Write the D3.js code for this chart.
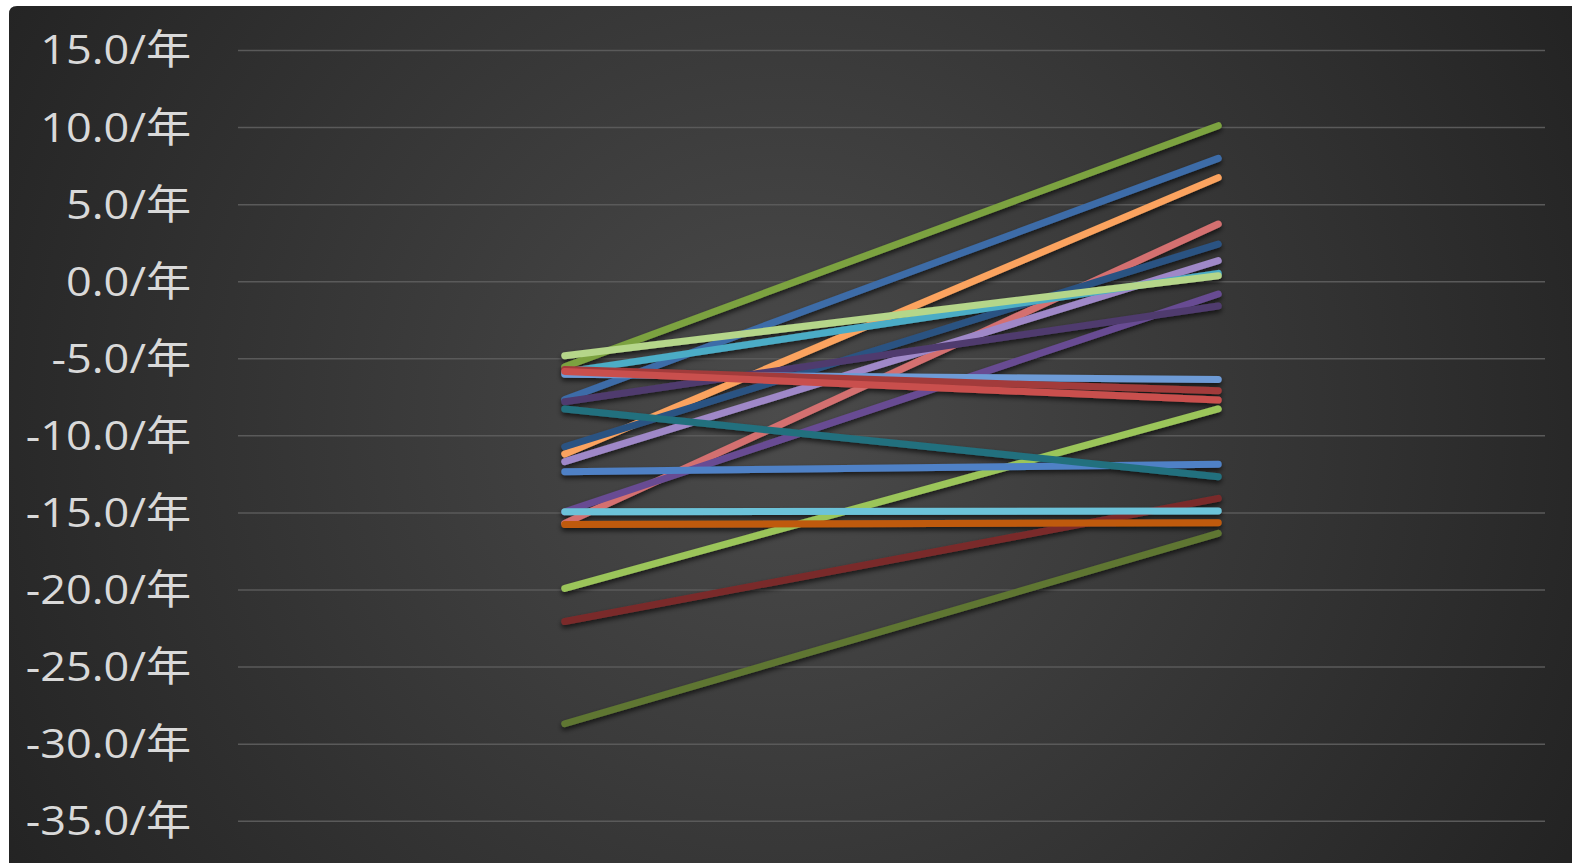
<!DOCTYPE html>
<html>
<head>
<meta charset="utf-8">
<script src="https://cdn.jsdelivr.net/npm/d3@7"></script>
<style>
  html, body { margin: 0; padding: 0; background: #ffffff; }
  svg { display: block; }
</style>
</head>
<body>
<svg id="chart" width="1572" height="863"></svg>
<script>
// ---- data ----
const categories = ["起点", "终点"];
const seriesNames = ["系列1","系列2","系列3","系列4","系列5","系列6","系列7","系列8","系列9","系列10",
                     "系列11","系列12","系列13","系列14","系列15","系列16","系列17","系列18","系列19","系列20"];
const startValues = [-5.55, -7.67, -11.21, -15.71, -10.74, -11.71, -5.9, -4.83, -14.96, -7.82,
                     -6.04, -5.72, -5.85, -19.93, -12.36, -8.29, -22.08, -14.96, -15.78, -28.71];
const endValues   = [10.09, 7.97, 6.72, 3.71, 2.41, 1.33, 0.51, 0.36, -0.83, -1.61,
                     -6.37, -7.10, -7.71, -8.29, -11.88, -12.68, -14.09, -14.91, -15.67, -16.36];
const seriesColors = ["#7BA23F","#3D6CA8","#FBA35E","#D47070","#2C5382","#9F88C8","#4BACC6","#B5D68A","#684C93","#4F3B6E",
                      "#6E9BD6","#A23B3A","#C9504E","#9BC55A","#4F81C6","#22707E","#7A2B2B","#6CC3D9","#BF5A0E","#5E7632"];
const tickValues = [15, 10, 5, 0, -5, -10, -15, -20, -25, -30, -35];
const tickLabels = ["15.0/年","10.0/年","5.0/年","0.0/年","-5.0/年","-10.0/年","-15.0/年","-20.0/年","-25.0/年","-30.0/年","-35.0/年"];

// ---- layout ----
const svg = d3.select("#chart");
const W = 1572, H = 863;
const box = { x: 9, y: 6 };
const plot = { left: 238, right: 1545, top: 50, bottom: 820.7 };

const defs = svg.append("defs");
const grad = defs.append("radialGradient")
  .attr("id", "bg").attr("gradientUnits", "userSpaceOnUse")
  .attr("cx", 780).attr("cy", 420).attr("r", 900);
grad.append("stop").attr("offset", "0%").attr("stop-color", "#4b4b4b");
grad.append("stop").attr("offset", "100%").attr("stop-color", "#232323");

const shadow = defs.append("filter").attr("id", "shadow")
  .attr("x", "-10%").attr("y", "-10%").attr("width", "120%").attr("height", "140%");
shadow.append("feDropShadow").attr("dx", 0).attr("dy", 3).attr("stdDeviation", 2.5)
  .attr("flood-color", "#000").attr("flood-opacity", 0.65);

svg.append("path")
  .attr("d", `M${box.x},${box.y + 8} Q${box.x},${box.y} ${box.x + 8},${box.y} L${W},${box.y} L${W},${H} L${box.x},${H} Z`)
  .attr("fill", "url(#bg)");

// ---- scales ----
const y = d3.scaleLinear().domain([-35, 15]).range([plot.bottom, plot.top]);
const x = d3.scalePoint().domain(categories).range([plot.left, plot.right]).padding(0.5);

// gridlines + labels
const yAxis = d3.axisLeft(y).tickValues(tickValues)
  .tickSize(-(plot.right - plot.left))
  .tickFormat((d, i) => tickLabels[i]);
const gAxis = svg.append("g").attr("transform", `translate(${plot.left},0)`).call(yAxis);
gAxis.select(".domain").remove();
gAxis.selectAll(".tick line").attr("stroke", "#5a5a5a").attr("stroke-width", 1.5);
const labels = gAxis.selectAll(".tick text")
  .attr("dy", "0.34em")
  .attr("fill", "#d9d9d9")
  .style("font-family", "'Open Sans', 'Noto Sans CJK SC', sans-serif")
  .style("font-size", "41px");
// widen labels horizontally to match the reference's wide face
const sx = 1.1;
labels.attr("x", -47 / sx).attr("transform", `scale(${sx},1)`);

// lines
const line = d3.line().x(d => x(d.cat)).y(d => y(d.v));
const series = seriesNames.map((name, i) => ({
  name, color: seriesColors[i],
  pts: [{ cat: categories[0], v: startValues[i] }, { cat: categories[1], v: endValues[i] }]
}));
svg.append("g").attr("filter", "url(#shadow)")
  .selectAll("path").data(series).join("path")
  .attr("d", d => line(d.pts))
  .attr("fill", "none")
  .attr("stroke", d => d.color)
  .attr("stroke-width", 7)
  .attr("stroke-linecap", "round");
</script>
</body>
</html>
